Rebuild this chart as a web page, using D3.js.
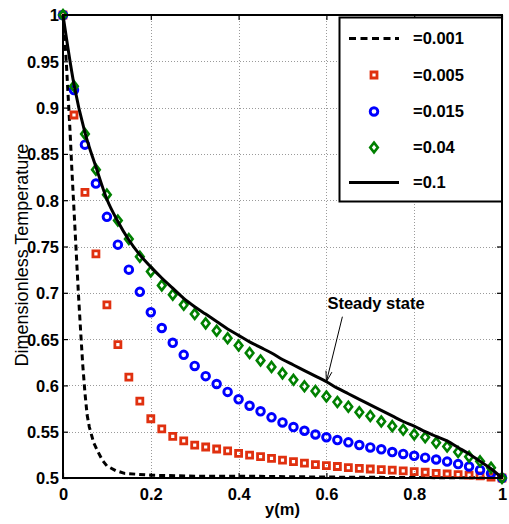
<!DOCTYPE html>
<html><head><meta charset="utf-8">
<script src="https://cdn.jsdelivr.net/npm/d3@7"></script>
<style>body{margin:0;background:#fff}svg{display:block}</style>
</head><body><svg id="c" width="509" height="524"></svg>
<script>
// ---- data ----
const yPos = [0,0.025,0.05,0.075,0.1,0.125,0.15,0.175,0.2,0.225,0.25,0.275,0.3,0.325,0.35,0.375,0.4,0.425,0.45,0.475,0.5,0.525,0.55,0.575,0.6,0.625,0.65,0.675,0.7,0.725,0.75,0.775,0.8,0.825,0.85,0.875,0.9,0.925,0.95,0.975,1];
const t005 = [1.0,0.892,0.8085,0.742,0.687,0.644,0.609,0.583,0.564,0.553,0.545,0.540,0.5356,0.5335,0.5313,0.5292,0.5267,0.5248,0.523,0.5213,0.5194,0.5177,0.516,0.5145,0.5134,0.5124,0.5113,0.5105,0.5097,0.509,0.5086,0.5076,0.5068,0.5062,0.5051,0.5043,0.5036,0.503,0.5022,0.501,0.5];
const t015 = [1.0,0.919,0.860,0.818,0.782,0.752,0.725,0.701,0.679,0.662,0.646,0.633,0.621,0.610,0.6015,0.593,0.585,0.578,0.572,0.5655,0.560,0.555,0.551,0.547,0.544,0.541,0.5385,0.5356,0.533,0.531,0.528,0.526,0.524,0.522,0.520,0.5177,0.515,0.5124,0.5086,0.505,0.5];
const t04 = [1.0,0.923,0.8715,0.833,0.806,0.778,0.758,0.739,0.723,0.708,0.698,0.687,0.677,0.667,0.659,0.651,0.643,0.635,0.627,0.620,0.613,0.606,0.599,0.594,0.588,0.582,0.577,0.571,0.567,0.561,0.556,0.552,0.547,0.544,0.538,0.534,0.528,0.523,0.518,0.511,0.5];
const t01 = [1.0,0.925,0.873,0.836,0.801,0.777,0.757,0.741,0.728,0.716,0.705,0.694,0.685,0.677,0.669,0.661,0.654,0.647,0.641,0.635,0.628,0.622,0.616,0.610,0.604,0.597,0.591,0.585,0.579,0.573,0.567,0.561,0.556,0.550,0.545,0.540,0.533,0.526,0.518,0.510,0.5];
const dashY = [0,0.004,0.008,0.012,0.016,0.02,0.025,0.03,0.035,0.04,0.045,0.05,0.055,0.06,0.07,0.08,0.09,0.1,0.12,0.14,0.17,0.2,0.3,0.4,0.6,0.8,1.0];
const t001 = [1.0,0.975,0.945,0.91,0.875,0.835,0.79,0.745,0.7,0.66,0.622,0.592,0.568,0.555,0.538,0.528,0.519,0.513,0.508,0.505,0.504,0.503,0.502,0.502,0.501,0.5005,0.5];
const xTicks = [0,0.2,0.4,0.6,0.8,1];
const xTickLabels = ["0","0.2","0.4","0.6","0.8","1"];
const yTicks = [0.5,0.55,0.6,0.65,0.7,0.75,0.8,0.85,0.9,0.95,1];
const yTickLabels = ["0.5","0.55","0.6","0.65","0.7","0.75","0.8","0.85","0.9","0.95","1"];
const legendLabels = ["=0.001","=0.005","=0.015","=0.04","=0.1"];
const xTitle = "y(m)";
const yTitle = "Dimensionless Temperature";
const annotation = "Steady state";

// ---- chart ----
const svg = d3.select("#c");
const FONT = "'Liberation Sans', Arial, sans-serif";
const x = d3.scaleLinear().domain([0,1]).range([63,502]);
const y = d3.scaleLinear().domain([0.5,1]).range([478,15]);
const RED = "#e0300f", BLUE = "#0000ff", GREEN = "#008000";

svg.append("rect").attr("width",509).attr("height",524).attr("fill","#fff");

// grid
const grid = svg.append("g").attr("stroke","#9a9a9a").attr("stroke-width",1).attr("stroke-dasharray","1,2");
grid.selectAll("line.gx").data(xTicks.slice(1,-1)).join("line")
  .attr("x1",d=>Math.round(x(d))+0.5).attr("x2",d=>Math.round(x(d))+0.5).attr("y1",y(1)).attr("y2",y(0.5));
grid.selectAll("line.gy").data(yTicks.slice(1,-1)).join("line")
  .attr("y1",d=>Math.round(y(d))+0.5).attr("y2",d=>Math.round(y(d))+0.5).attr("x1",x(0)).attr("x2",x(1));

// axes
const fmtX = d => xTickLabels[xTicks.indexOf(d)];
const fmtY = d => yTickLabels[yTicks.indexOf(d)];
function styleAxis(g){ g.select(".domain").remove(); g.selectAll("line").attr("stroke","#000").attr("stroke-width",1.2);
  g.selectAll("text").attr("font-family",FONT).attr("font-weight","bold").attr("font-size",16.5).attr("fill","#000"); }
svg.append("g").attr("transform",`translate(0,${y(0.5)})`)
  .call(d3.axisBottom(x).tickValues(xTicks).tickFormat(fmtX).tickSize(-5)).call(styleAxis)
  .call(g=>g.selectAll("text").attr("y",22).attr("dy",0));
svg.append("g").attr("transform",`translate(0,${y(1)})`)
  .call(d3.axisTop(x).tickValues(xTicks).tickFormat("").tickSize(-5)).call(styleAxis);
svg.append("g").attr("transform",`translate(${x(0)},0)`)
  .call(d3.axisLeft(y).tickValues(yTicks).tickFormat(fmtY).tickSize(-5)).call(styleAxis)
  .call(g=>g.selectAll("text").attr("x",-4).attr("dy","0.36em"));
svg.append("g").attr("transform",`translate(${x(1)},0)`)
  .call(d3.axisRight(y).tickValues(yTicks).tickFormat("").tickSize(-5)).call(styleAxis);

// titles
svg.append("text").attr("x",(x(0)+x(1))/2).attr("y",515).attr("text-anchor","middle")
  .attr("font-family",FONT).attr("font-weight","bold").attr("font-size",16.5).text(xTitle);
svg.append("text").attr("transform",`translate(28,255) rotate(-90)`).attr("text-anchor","middle")
  .attr("font-family",FONT).attr("font-size",18).text(yTitle);

// markers
const sq = "M-3,-3H3V3H-3Z";
const dia = "M0,-4.9L3.8,0L0,4.9L-3.8,0Z";
function markers(vals, path, color, sw){
  svg.append("g").selectAll("path").data(vals).join("path")
    .attr("transform",(d,i)=>`translate(${x(yPos[i])},${y(d)})`)
    .attr("d",path).attr("fill","none").attr("stroke",color).attr("stroke-width",sw);
}
const dashLine = d3.line().x((d,i)=>x(dashY[i])).y(d=>y(d));
svg.append("path").datum(t001).attr("d",dashLine).attr("fill","none").attr("stroke","#000")
  .attr("stroke-width",3).attr("stroke-dasharray","6,4");
markers(t005, sq, RED, 2.8);
svg.append("g").selectAll("circle").data(t015).join("circle")
  .attr("cx",(d,i)=>x(yPos[i])).attr("cy",d=>y(d)).attr("r",3.8)
  .attr("fill","none").attr("stroke",BLUE).attr("stroke-width",2.9);
markers(t04, dia, GREEN, 2.6);
const solid = d3.line().x((d,i)=>x(yPos[i])).y(d=>y(d)).curve(d3.curveMonotoneX);
svg.append("path").datum(t01).attr("d",solid).attr("fill","none").attr("stroke","#000").attr("stroke-width",3);

// frame
svg.append("rect").attr("x",x(0)).attr("y",y(1)).attr("width",x(1)-x(0)).attr("height",y(0.5)-y(1))
  .attr("fill","none").attr("stroke","#000").attr("stroke-width",2);

// annotation
const tip = [x(0.6), y(t01[yPos.indexOf(0.6)])];
const tail = [tip[0]+16, tip[1]-65];
svg.append("line").attr("x1",tail[0]).attr("y1",tail[1]).attr("x2",tip[0]).attr("y2",tip[1]).attr("stroke","#000").attr("stroke-width",1);
const ang = Math.atan2(tip[1]-tail[1], tip[0]-tail[0]);
const hl = 11, hw = 0.28;
svg.append("path").attr("d",`M${tip[0]-hl*Math.cos(ang-hw)},${tip[1]-hl*Math.sin(ang-hw)}L${tip[0]},${tip[1]}L${tip[0]-hl*Math.cos(ang+hw)},${tip[1]-hl*Math.sin(ang+hw)}`)
  .attr("fill","none").attr("stroke","#000").attr("stroke-width",1);
svg.append("text").attr("x",tip[0]+1).attr("y",309).attr("font-family",FONT).attr("font-weight","bold")
  .attr("font-size",16.5).text(annotation);

// legend
const lg = svg.append("g");
lg.append("rect").attr("x",339.5).attr("y",17.5).attr("width",x(1)-339.5).attr("height",184)
  .attr("fill","#fff").attr("stroke","#000").attr("stroke-width",2);
const rowsY = [38.5,75,111.5,147.5,182.5];
const lx1 = 349, lx2 = 399, lmx = 374;
lg.append("line").attr("x1",lx1).attr("x2",lx2).attr("y1",rowsY[0]).attr("y2",rowsY[0]).attr("stroke","#000").attr("stroke-width",3).attr("stroke-dasharray","7,4.5");
lg.append("path").attr("transform",`translate(${lmx},${rowsY[1]})`).attr("d",sq).attr("fill","none").attr("stroke",RED).attr("stroke-width",2.8);
lg.append("circle").attr("cx",lmx).attr("cy",rowsY[2]).attr("r",3.8).attr("fill","none").attr("stroke",BLUE).attr("stroke-width",2.9);
lg.append("path").attr("transform",`translate(${lmx},${rowsY[3]})`).attr("d",dia).attr("fill","none").attr("stroke",GREEN).attr("stroke-width",2.6);
lg.append("line").attr("x1",lx1).attr("x2",lx2).attr("y1",rowsY[4]).attr("y2",rowsY[4]).attr("stroke","#000").attr("stroke-width",3);
lg.selectAll("text").data(legendLabels).join("text").attr("x",413).attr("y",(d,i)=>rowsY[i]).attr("dy","0.36em")
  .attr("font-family",FONT).attr("font-weight","bold").attr("font-size",16.5).text(d=>d);
</script></body></html>
